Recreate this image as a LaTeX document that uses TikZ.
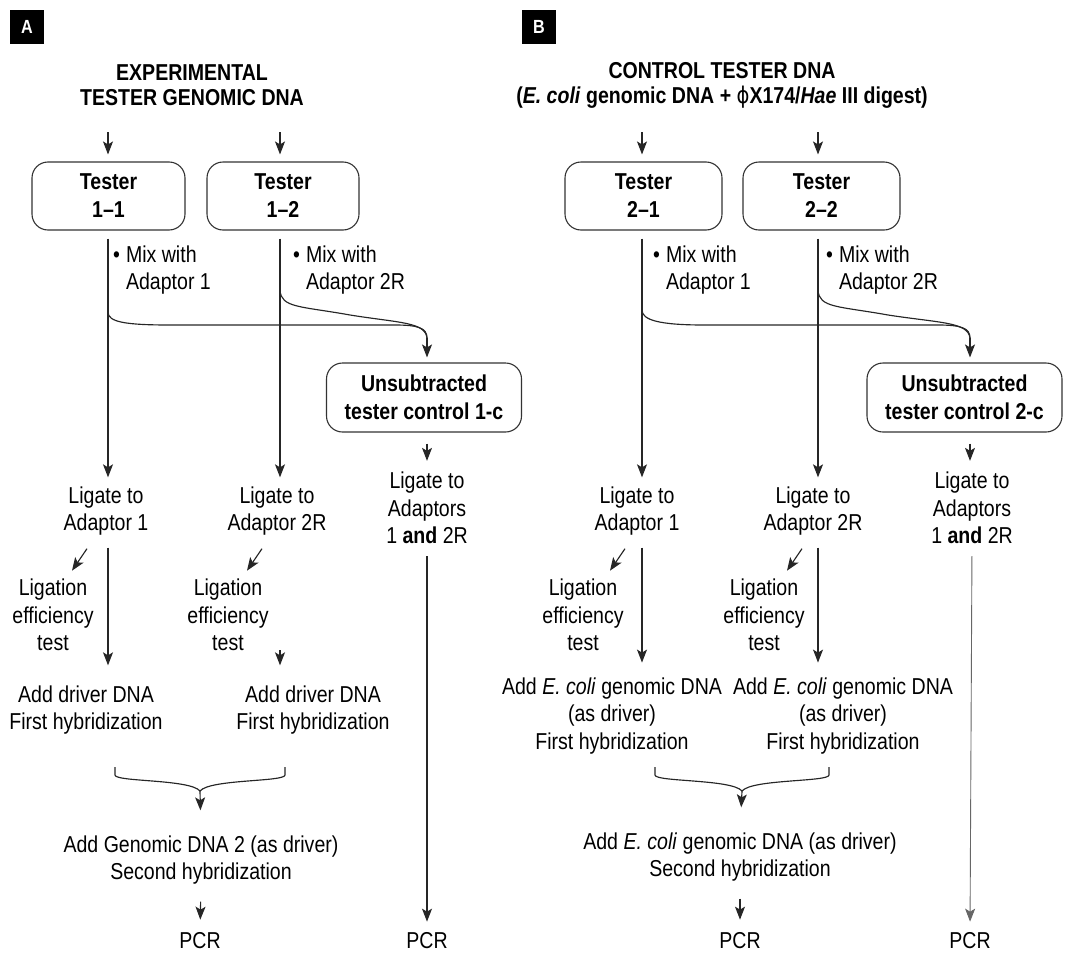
\documentclass[tikz,border=0pt]{standalone}
\usepackage{fontspec}
\setmainfont[FakeStretch=0.85]{Liberation Sans}
\newfontfamily\phifont[FakeStretch=0.85]{DejaVu Sans}
\usetikzlibrary{positioning, arrows.meta, calc}

\begin{document}
\begin{tikzpicture}[x=1pt, y=-1pt,
    font=\fontsize{23}{27.5}\selectfont,
    txt/.style={align=center, inner sep=0pt},
    ttl/.style={txt, font=\fontsize{23}{25}\selectfont\bfseries},
    tbox/.style={draw=black!80, line width=1.1pt, rounded corners=16pt, minimum height=68pt, align=center, inner sep=0pt, font=\fontsize{23}{28}\selectfont\bfseries},
    lbl/.style={fill=black, text=white, minimum size=34pt, inner sep=0pt, font=\fontsize{19}{19}\selectfont\bfseries},
    ln/.style={line width=1.15pt, black!85},
    arr/.style={ln, -{Stealth[length=13pt, width=10pt, inset=3pt]}}]
  \useasboundingbox (0,0) rectangle (1065,953);

  % panel A
  \node[lbl] (labA) at (27,27) {A};
  \node[ttl] (titleA) at (192,85) {EXPERIMENTAL\\TESTER GENOMIC DNA};

  \node[tbox, minimum width=153pt] (t11) at (108.5,196) {Tester\\1--1};
  \node[tbox, minimum width=152pt] (t12) at (283,196) {Tester\\1--2};
  \coordinate (inA1) at (108,132);
  \coordinate (inA2) at (280,132);
  \draw[arr, shorten >=7pt] (inA1) -- (inA1 |- t11.north);
  \draw[arr, shorten >=7pt] (inA2) -- (inA2 |- t12.north);

  \node[txt, anchor=west, align=left] (mix11) at (113,270) {\textbullet\hspace{6pt}Mix with\\\hphantom{\textbullet\hspace{6pt}}Adaptor 1};
  \node[txt, anchor=west, align=left] (mix12) at (293,270) {\textbullet\hspace{6pt}Mix with\\\hphantom{\textbullet\hspace{6pt}}Adaptor 2R};

  \node[tbox, minimum width=195pt, minimum height=69pt] (ctrlA) at (424,397.5) {Unsubtracted\\tester control 1-c};
  \coordinate (sA1) at (108,312);
  \coordinate (sA2) at (280,290);
  \coordinate (jA) at (427,338);
  \draw[ln] (sA1) .. controls (108,322) and (125,325) .. (170,325) -- (395,325) .. controls (418,325) and (427,328) .. (jA);
  \draw[ln] (sA2) .. controls (281,308) and (300,306) .. (350,315) .. controls (400,323) and (425,322) .. (jA);
  \draw[arr, shorten >=5pt] (jA) -- (ctrlA.north -| jA);

  \node[txt] (lig11) at (106,511) {Ligate to\\Adaptor 1};
  \node[txt] (lig12) at (277,511) {Ligate to\\Adaptor 2R};
  \node[txt] (lig1c) at (427,508) {Ligate to\\Adaptors\\1 \textbf{and} 2R};
  \draw[arr, shorten <=8pt, shorten >=9pt] (t11.south -| inA1) -- (lig11.north -| inA1);
  \draw[arr, shorten <=8pt, shorten >=9pt] (t12.south -| inA2) -- (lig12.north -| inA2);
  \draw[arr, shorten <=11pt, shorten >=11pt] (ctrlA.south -| jA) -- (lig1c.north -| jA);

  \node[txt] (eff11) at (53,615) {Ligation\\efficiency\\test};
  \node[txt] (eff12) at (228,615) {Ligation\\efficiency\\test};
  \draw[arr] (lig11.south) ++(-19,13) -- ++(-15,22);
  \draw[arr] (lig12.south) ++(-15,13) -- ++(-15,22);

  \node[txt] (drv11) at (86,710) {Add driver DNA\\First hybridization};
  \node[txt] (drv12) at (313,710) {Add driver DNA\\First hybridization};
  \draw[arr, shorten <=12pt, shorten >=20pt] (lig11.south -| inA1) -- (drv11.north -| inA1);
  \draw[arr] (drv12.north -| inA2) ++(0,-35) -- ++(0,15);

  % merge of the two first hybridizations
  \coordinate (bA1) at (115,767);
  \coordinate (bA2) at (285,767);
  \coordinate (bAm) at (200,791);
  \draw[ln] (bA1) -- ++(0,8) .. controls (115,782) and (190,779) .. (bAm) .. controls (210,779) and (285,782) .. (285,775) -- (bA2);
  \node[txt] (sec1) at (201,860) {Add Genomic DNA 2 (as driver)\\Second hybridization};
  \draw[arr, shorten >=25pt] (bAm) -- (sec1.north);

  \node[txt] (pcr11) at (200,941) {PCR};
  \node[txt] (pcr1c) at (427,941) {PCR};
  \draw[arr, shorten <=17pt, shorten >=13pt] (sec1.south) -- (pcr11.north);
  \draw[arr, shorten <=12pt, shorten >=11pt] (lig1c.south) -- (pcr1c.north);

  % panel B
  \node[lbl] (labB) at (539,27) {B};
  \node[ttl] (titleB) at (722,85) {CONTROL TESTER DNA\\(\textit{E. coli} genomic DNA + {\phifont\mdseries ϕ}X174/\textit{Hae} III digest)};

  \node[tbox, minimum width=157pt] (t21) at (643.5,196) {Tester\\2--1};
  \node[tbox, minimum width=157pt] (t22) at (821.5,196) {Tester\\2--2};
  \coordinate (inB1) at (642,132);
  \coordinate (inB2) at (818,132);
  \draw[arr, shorten >=7pt] (inB1) -- (inB1 |- t21.north);
  \draw[arr, shorten >=7pt] (inB2) -- (inB2 |- t22.north);

  \node[txt, anchor=west, align=left] (mix21) at (653,270) {\textbullet\hspace{6pt}Mix with\\\hphantom{\textbullet\hspace{6pt}}Adaptor 1};
  \node[txt, anchor=west, align=left] (mix22) at (826,270) {\textbullet\hspace{6pt}Mix with\\\hphantom{\textbullet\hspace{6pt}}Adaptor 2R};

  \node[tbox, minimum width=195pt, minimum height=69pt] (ctrlB) at (964.5,397.5) {Unsubtracted\\tester control 2-c};
  \coordinate (sB1) at (642,310);
  \coordinate (sB2) at (818,290);
  \coordinate (jB) at (970,338);
  \draw[ln] (sB1) .. controls (642,320) and (659,325) .. (704,325) -- (938,325) .. controls (961,325) and (970,328) .. (jB);
  \draw[ln] (sB2) .. controls (819,308) and (838,306) .. (888,315) .. controls (940,323) and (968,322) .. (jB);
  \draw[arr, shorten >=5pt] (jB) -- (ctrlB.north -| jB);

  \node[txt] (lig21) at (637,511) {Ligate to\\Adaptor 1};
  \node[txt] (lig22) at (813,511) {Ligate to\\Adaptor 2R};
  \node[txt] (lig2c) at (972,508) {Ligate to\\Adaptors\\1 \textbf{and} 2R};
  \draw[arr, shorten <=8pt, shorten >=9pt] (t21.south -| inB1) -- (lig21.north -| inB1);
  \draw[arr, shorten <=8pt, shorten >=9pt] (t22.south -| inB2) -- (lig22.north -| inB2);
  \draw[arr, shorten <=11pt, shorten >=11pt] (ctrlB.south -| jB) -- (lig2c.north -| jB);

  \node[txt] (eff21) at (583,615) {Ligation\\efficiency\\test};
  \node[txt] (eff22) at (764,615) {Ligation\\efficiency\\test};
  \draw[arr] (lig21.south) ++(-12,13) -- ++(-15,22);
  \draw[arr] (lig22.south) ++(-11,13) -- ++(-15,22);

  \node[txt] (drv21) at (612,716) {Add \textit{E. coli} genomic DNA\\(as driver)\\First hybridization};
  \node[txt] (drv22) at (843,716) {Add \textit{E. coli} genomic DNA\\(as driver)\\First hybridization};
  \draw[arr, shorten <=12pt, shorten >=15pt] (lig21.south -| inB1) -- (drv21.north -| inB1);
  \draw[arr, shorten <=12pt, shorten >=15pt] (lig22.south -| inB2) -- (drv22.north -| inB2);

  \coordinate (bB1) at (655,767);
  \coordinate (bB2) at (829,767);
  \coordinate (bBm) at (742,791);
  \draw[ln] (bB1) -- ++(0,8) .. controls (655,782) and (732,779) .. (bBm) .. controls (752,779) and (829,782) .. (829,775) -- (bB2);
  \node[txt] (sec2) at (740,857) {Add \textit{E. coli} genomic DNA (as driver)\\Second hybridization};
  \draw[arr, shorten >=25pt] (bBm) -- (sec2.north);

  \node[txt] (pcr21) at (740,941) {PCR};
  \node[txt] (pcr2c) at (970,941) {PCR};
  \draw[arr, shorten <=17pt, shorten >=13pt] (sec2.south) -- (pcr21.north);
  \draw[arr, black!60, line width=0.9pt, shorten <=12pt, shorten >=11pt] (lig2c.south) -- (pcr2c.north);
\end{tikzpicture}
\end{document}
